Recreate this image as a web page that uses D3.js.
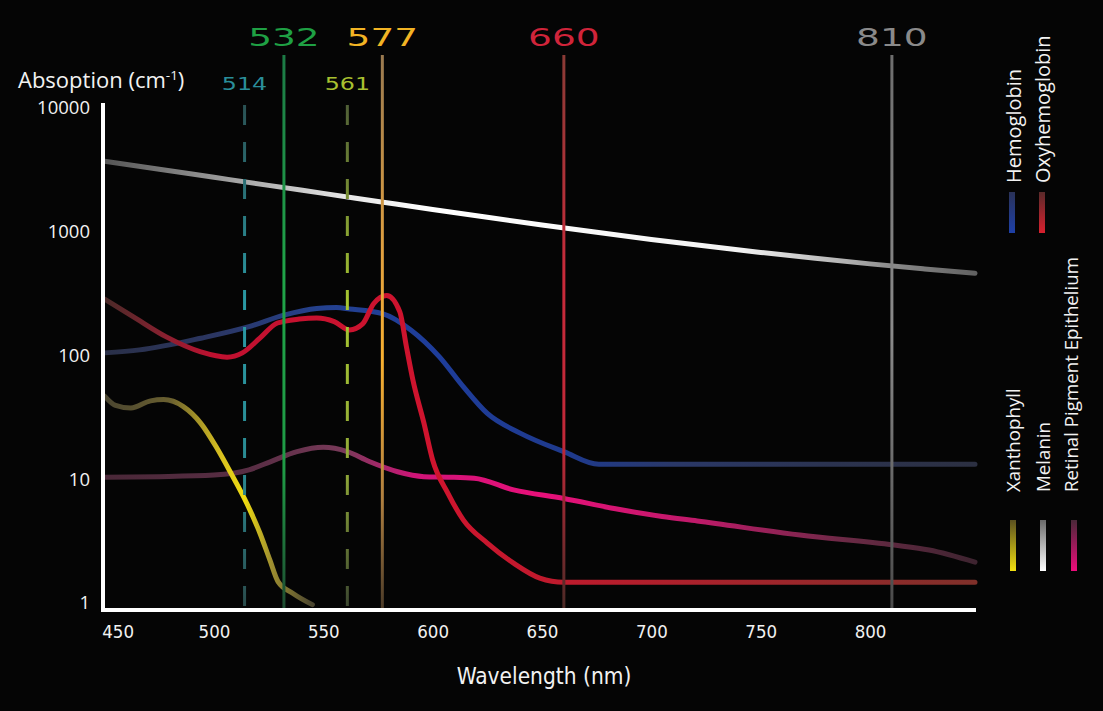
<!DOCTYPE html>
<html>
<head>
<meta charset="utf-8">
<script src="https://cdn.jsdelivr.net/npm/d3@7"></script>
<style>
  html, body { margin: 0; padding: 0; background: #050505; }
  svg { display: block; }
</style>
</head>
<body>
<svg id="chart" width="1103" height="711"></svg>
<script>
// ---------------- DATA ----------------
const wavelengthTicks = [450, 500, 550, 600, 650, 700, 750, 800];
const absorptionTicks = [1, 10, 100, 1000, 10000];

const melaninNm  = [450, 475, 500, 525, 550, 575, 600, 625, 650, 675, 700, 725, 750, 775, 800, 825, 848];
const melaninVal = [3715, 3200, 2754, 2371, 2042, 1758, 1514, 1309, 1135, 989, 867, 766, 681, 610, 550, 501, 462];

const hemoglobinNm  = [450, 466, 494, 516, 532, 547, 556, 562, 577, 590, 603, 614, 625, 640, 660, 676, 848];
const hemoglobinVal = [105, 111, 138, 171, 212, 240, 244, 238, 218, 161, 98, 56, 34, 23.6, 16.7, 13.2, 13.2];

const oxyNm  = [450, 463, 478, 494, 506, 513, 521, 529, 539, 547, 555, 562, 568, 573, 579, 585, 588, 591, 596, 600, 607, 614, 625, 637, 649, 660, 848];
const oxyVal = [285, 206, 142, 107, 97, 105, 138, 183, 197, 201, 188, 161, 180, 262, 305, 225, 118, 63, 28.5, 14.3, 7.7, 4.7, 3.05, 2.1, 1.59, 1.47, 1.47];

const rpeNm  = [450, 475, 500, 516, 526, 538, 550, 561, 571, 584, 596, 607, 619, 637, 660, 683, 705, 721, 768, 811, 827, 848];
const rpeVal = [10.4, 10.5, 10.8, 11.9, 13.9, 16.7, 18.1, 16.7, 13.9, 11.5, 10.5, 10.4, 10.2, 8.2, 7.0, 5.8, 5.0, 4.6, 3.54, 2.94, 2.68, 2.14];

const xanthophyllNm  = [450, 455, 462, 471, 477, 486, 494, 501, 508, 515, 521, 525.6, 529.3, 536, 545];
const xanthophyllVal = [47, 39.5, 37.6, 43, 44, 38.6, 28.3, 18.3, 11, 6.4, 3.68, 2.22, 1.49, 1.2, 0.97];

const laserNm     = [514, 532, 561, 577, 660, 810];
const laserLabels = ["514", "532", "561", "577", "660", "810"];
const laserDashed = [true, false, true, false, false, false];

const legendTop    = ["Hemoglobin", "Oxyhemoglobin"];
const legendBottom = ["Xanthophyll", "Melanin", "Retinal Pigment Epithelium"];

// ---------------- STYLE ----------------
const svg = d3.select("#chart");
svg.append("rect").attr("width", 1103).attr("height", 711).attr("fill", "#050505");

const x = d3.scaleLinear().domain([450, 848]).range([104.6, 975]);
const y = d3.scaleLog().domain([1, 10000]).range([603, 108]);
const axisY = 610, axisX = 103;

const defs = svg.append("defs");
function hGrad(id, stops) {
  const g = defs.append("linearGradient").attr("id", id)
    .attr("gradientUnits", "userSpaceOnUse")
    .attr("x1", x(450)).attr("x2", x(848)).attr("y1", 0).attr("y2", 0);
  stops.forEach(s => g.append("stop")
    .attr("offset", (x(s[0]) - x(450)) / (x(848) - x(450)))
    .attr("stop-color", s[1]));
}
function vGrad(id, y1, y2, stops) {
  const g = defs.append("linearGradient").attr("id", id)
    .attr("gradientUnits", "userSpaceOnUse")
    .attr("x1", 0).attr("x2", 0).attr("y1", y1).attr("y2", y2);
  stops.forEach(s => g.append("stop").attr("offset", s[0]).attr("stop-color", s[1]));
}

hGrad("gMel", [[450, "#555555"], [500, "#969696"], [560, "#e6e6e6"], [600, "#ffffff"], [740, "#f3f3f3"], [790, "#b0b0b0"], [810, "#8a8a8a"], [848, "#626262"]]);
hGrad("gHb",  [[450, "#2a3048"], [500, "#2b3662"], [550, "#24418f"], [600, "#1e3d9b"], [665, "#1f3a8c"], [710, "#2a3868"], [780, "#2b3350"], [848, "#2c3042"]]);
hGrad("gOxy", [[450, "#4a2a28"], [478, "#8a2030"], [500, "#c01030"], [600, "#d0142e"], [690, "#b41e2c"], [848, "#80302a"]]);
hGrad("gRpe", [[450, "#4a2838"], [520, "#5a2e45"], [560, "#7a3a5a"], [592, "#d01478"], [650, "#e8107a"], [720, "#c01a6a"], [790, "#6a2a45"], [848, "#3e2430"]]);
hGrad("gXan", [[450, "#4a4530"], [480, "#6a6030"], [503, "#d8c020"], [514, "#f0dc10"], [526, "#a09030"], [545, "#4a4530"]]);

const laserColors = {
  "514": [[0, "#2a4040"], [0.45, "#2a9aa5"], [0.75, "#2a8a92"], [1, "#2a4a4a"]],
  "532": [[0, "#1c7a45"], [0.4, "#20a448"], [0.75, "#1f9a45"], [1, "#1d4a30"]],
  "561": [[0, "#3a4538"], [0.45, "#a8c830"], [0.75, "#90a838"], [1, "#3a4530"]],
  "577": [[0, "#9a7a50"], [0.35, "#e0a040"], [0.55, "#f8b030"], [0.8, "#b08040"], [1, "#4a3a28"]],
  "660": [[0, "#8a3a35"], [0.4, "#c82a3a"], [0.7, "#c02838"], [1, "#4a2a26"]],
  "810": [[0, "#6e6e6e"], [0.5, "#8a8a8a"], [1, "#4a4a4a"]]
};
const labelColors = { "514": "#2a8e9a", "532": "#1fa044", "561": "#a8c030", "577": "#f2b424", "660": "#d0243a", "810": "#8a8a8a" };
laserLabels.forEach(l => vGrad("gL" + l, 55, axisY, laserColors[l]));

vGrad("lgHb",  192, 233, [[0, "#2a3258"], [1, "#1e40a8"]]);
vGrad("lgOxy", 192, 233, [[0, "#5a2a2a"], [1, "#d8202e"]]);
vGrad("lgXan", 520, 571, [[0, "#5a5020"], [1, "#f2e010"]]);
vGrad("lgMel", 520, 571, [[0, "#6a6a6a"], [1, "#ffffff"]]);
vGrad("lgRpe", 520, 571, [[0, "#4a2838"], [1, "#ee0c7c"]]);

// ---------------- CURVES ----------------
const line = d3.line().x(d => x(d[0])).y(d => y(d[1])).curve(d3.curveMonotoneX);
const zip = (a, b) => a.map((v, i) => [v, b[i]]);
const curves = [
  { data: zip(melaninNm, melaninVal), grad: "gMel" },
  { data: zip(hemoglobinNm, hemoglobinVal), grad: "gHb" },
  { data: zip(rpeNm, rpeVal), grad: "gRpe" },
  { data: zip(xanthophyllNm, xanthophyllVal), grad: "gXan" },
  { data: zip(oxyNm, oxyVal), grad: "gOxy" }
];
svg.append("g").selectAll("path").data(curves).join("path")
  .attr("d", d => line(d.data))
  .attr("fill", "none")
  .attr("stroke", d => `url(#${d.grad})`)
  .attr("stroke-width", 5)
  .attr("stroke-linecap", "round")
  .attr("stroke-linejoin", "round");

// ---------------- LASER LINES ----------------
const lasers = laserNm.map((nm, i) => ({ nm, label: laserLabels[i], dashed: laserDashed[i] }));
svg.append("g").selectAll("line").data(lasers).join("line")
  .attr("x1", d => x(d.nm)).attr("x2", d => x(d.nm))
  .attr("y1", d => d.dashed ? 105 : 55)
  .attr("y2", axisY - 2)
  .attr("stroke", d => `url(#gL${d.label})`)
  .attr("stroke-width", 3)
  .attr("stroke-dasharray", d => d.dashed ? "20,17" : null);

const labG = svg.append("g").selectAll("g").data(lasers).join("g")
  .attr("transform", d => `translate(${x(d.nm)},${d.dashed ? 90 : 46}) scale(${d.dashed ? 1.4 : 1.5},1)`);
labG.append("text")
  .attr("text-anchor", "middle")
  .attr("font-family", "'DejaVu Sans', sans-serif")
  .attr("font-size", d => d.dashed ? 17 : 25)
  .attr("fill", d => labelColors[d.label])
  .text(d => d.label);

// ---------------- AXES ----------------
const yAxis = d3.axisLeft(y).tickValues(absorptionTicks).tickFormat(d3.format("d")).tickSize(0).tickPadding(13);
const gy = svg.append("g").attr("transform", `translate(${axisX},0)`).call(yAxis);
gy.select(".domain").remove();
gy.selectAll("text").attr("fill", "#f2f2f2").attr("font-family", "'Open Sans', sans-serif").attr("font-size", 18.5);

const xAxis = d3.axisBottom(x).tickValues(wavelengthTicks).tickFormat(d3.format("d")).tickSize(0).tickPadding(15);
const gx = svg.append("g").attr("transform", `translate(0,${axisY})`).call(xAxis);
gx.select(".domain").remove();
gx.selectAll("text").attr("fill", "#f2f2f2")
  .attr("font-family", "'DejaVu Sans Condensed', 'DejaVu Sans', sans-serif")
  .attr("font-stretch", "condensed").attr("font-size", 18.5);
gx.selectAll(".tick").filter(d => d === 450).select("text").attr("dx", 13);

svg.append("line").attr("x1", axisX).attr("x2", axisX).attr("y1", 103).attr("y2", axisY + 2)
  .attr("stroke", "#ffffff").attr("stroke-width", 4);
svg.append("line").attr("x1", axisX - 2).attr("x2", 976).attr("y1", axisY).attr("y2", axisY)
  .attr("stroke", "#ffffff").attr("stroke-width", 4);

// axis titles
const yt = svg.append("text").attr("x", 18).attr("y", 88)
  .attr("fill", "#f2f2f2").attr("font-family", "'Open Sans', sans-serif").attr("font-size", 22);
yt.append("tspan").text("Absoption (cm");
yt.append("tspan").attr("font-size", 13.5).attr("dy", -8).text("-1");
yt.append("tspan").attr("dy", 8).text(")");

svg.append("text").attr("x", 544).attr("y", 684).attr("text-anchor", "middle")
  .attr("fill", "#f2f2f2")
  .attr("font-family", "'DejaVu Sans Condensed', 'DejaVu Sans', sans-serif")
  .attr("font-stretch", "condensed").attr("font-size", 22.5)
  .text("Wavelength (nm)");

// ---------------- LEGEND ----------------
const legTop = [
  { name: legendTop[0], cx: 1014, bx: 1012, grad: "lgHb" },
  { name: legendTop[1], cx: 1043, bx: 1042, grad: "lgOxy" }
];
const legBot = [
  { name: legendBottom[0], cx: 1013, bx: 1013, grad: "lgXan" },
  { name: legendBottom[1], cx: 1043, bx: 1043, grad: "lgMel" },
  { name: legendBottom[2], cx: 1071, bx: 1074, grad: "lgRpe" }
];
function drawLegend(items, textStart, barTop, barBot, fs) {
  const g = svg.append("g");
  g.selectAll("text").data(items).join("text")
    .attr("transform", d => `translate(${d.cx},${textStart}) rotate(-90)`)
    .attr("dy", "0.35em")
    .attr("fill", "#f2f2f2").attr("font-family", "'Open Sans', sans-serif").attr("font-size", fs)
    .text(d => d.name);
  g.selectAll("rect").data(items).join("rect")
    .attr("x", d => d.bx - 3).attr("width", 6)
    .attr("y", barTop).attr("height", barBot - barTop)
    .attr("fill", d => `url(#${d.grad})`);
}
drawLegend(legTop, 183, 192, 233, 20);
drawLegend(legBot, 492, 520, 571, 18.7);
</script>
</body>
</html>
